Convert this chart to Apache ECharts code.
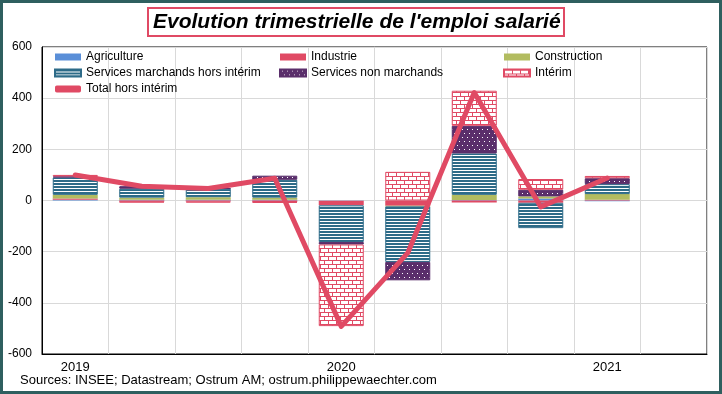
<!DOCTYPE html>
<html><head><meta charset="utf-8">
<script src="https://cdn.jsdelivr.net/npm/echarts@6/dist/echarts.min.js"></script>
<style>html,body{margin:0;padding:0;background:#fff}#c{width:722px;height:394px}</style>
</head><body><div id="c"></div>
<script>
const categories = ['2019T1','2019T2','2019T3','2019T4','2020T1','2020T2','2020T3','2020T4','2021T1','2021T2'];
const tickLabels = ['2019','','','','2020','','','','2021',''];
const agriculture = [3,3,3,3,-1,0,2,8,-3,null];
const industrie = [5,-5,-4,-6,-18,-21,-8,-9,3,null];
const construction = [14,8,10,8,0,-2,20,8,22,null];
const servicesMarchands = [68,35,33,70,-143,-217,162,-99,39,null];
const servicesNonMarchands = [4,10,2,16,-10,-72,108,26,23,null];
const interim = [6,-2,-4,-3,-319,112,137,42,9,null];
const totalHorsInterim = [100,56,47,87,-492,-205,422,-25,88,null];
const yMin = -600, yMax = 600, yStep = 200;

const RED = '#E04A64', TEAL = '#2D6B88', PURPLE = '#5A2E6B', BLUE = '#5A8FD8', GREEN = '#B2BC60';

function mk(w,h,draw){const c=document.createElement('canvas');c.width=w;c.height=h;const x=c.getContext('2d');draw(x);return {image:c,repeat:'repeat'};}
const stripePat = mk(4,3,x=>{x.fillStyle='#fff';x.fillRect(0,0,4,3);x.fillStyle=TEAL;x.fillRect(0,0,4,2);});
const dotPat = mk(10,8,x=>{x.fillStyle=PURPLE;x.fillRect(0,0,10,8);x.fillStyle='#fff';x.fillRect(2,1,1,1);x.fillRect(7,1,1,1);x.fillRect(4,5,1,1);x.fillRect(9,5,1,1);});
const brickPat = mk(8,8,x=>{x.fillStyle='#fff';x.fillRect(0,0,8,8);x.fillStyle=RED;x.fillRect(0,0,8,1);x.fillRect(0,4,8,1);x.fillRect(0,1,1,3);x.fillRect(4,5,1,3);});

const font = 'Liberation Sans, Arial, sans-serif';
const chart = echarts.init(document.getElementById('c'), null, {renderer:'canvas'});
function bar(name, data, color, border){
  return {name, type:'bar', stack:'t', data, barWidth:45,
    itemStyle: border ? {color, borderColor:border, borderWidth:1} : {color}};
}
const legendBase = {orient:'vertical', top:50, itemGap:2, itemWidth:26, itemHeight:7, padding:0, icon:'rect',
  textStyle:{fontSize:12, color:'#000', fontFamily:font, lineHeight:14}};
chart.setOption({
  animation:false,
  title:{text:"Evolution trimestrielle de l'emploi salarié", left:148, top:8, padding:[2,4,2,5],
    borderColor:RED, borderWidth:2,
    textStyle:{fontFamily:font, fontStyle:'italic', fontWeight:'bold', fontSize:21, color:'#000', lineHeight:24}},
  legend:[
    Object.assign({}, legendBase, {left:54, data:['Agriculture','Services marchands hors intérim',{name:'Total hors intérim', icon:'roundRect'}]}),
    Object.assign({}, legendBase, {left:279, data:['Industrie','Services non marchands']}),
    Object.assign({}, legendBase, {left:503, data:['Construction','Intérim']})
  ],
  grid:{left:42, right:15, top:47, bottom:40, show:true, borderColor:'#000', borderWidth:1},
  xAxis:{type:'category', data:categories, boundaryGap:true,
    axisLine:{show:true, onZero:false, lineStyle:{color:'#000'}},
    axisTick:{show:false},
    axisLabel:{interval:0, formatter:(v,i)=>tickLabels[i], margin:7, fontSize:13, color:'#000', fontFamily:font},
    splitLine:{show:true, interval:0, lineStyle:{color:'#d9d9d9'}}},
  yAxis:{type:'value', min:yMin, max:yMax, interval:yStep,
    axisLine:{show:true, lineStyle:{color:'#000'}}, axisTick:{show:false},
    axisLabel:{fontSize:12, color:'#000', margin:10, fontFamily:font},
    splitLine:{lineStyle:{color:'#d9d9d9'}}},
  graphic:[
    {type:'rect', shape:{x:1.5,y:1.5,width:719,height:391}, style:{fill:'none', stroke:'#2F5F5F', lineWidth:3}, z:100},
    {type:'text', left:20, top:374, style:{text:'Sources: INSEE; Datastream; Ostrum AM; ostrum.philippewaechter.com', font:'13px '+font, fill:'#000'}}
  ],
  series:[
    bar('Agriculture', agriculture, BLUE),
    bar('Industrie', industrie, RED),
    bar('Construction', construction, GREEN),
    bar('Services marchands hors intérim', servicesMarchands, stripePat, TEAL),
    bar('Services non marchands', servicesNonMarchands, dotPat, PURPLE),
    bar('Intérim', interim, brickPat, RED),
    {name:'Total hors intérim', type:'line', data:totalHorsInterim, symbol:'none', z:5,
      lineStyle:{color:RED, width:5, cap:'round', join:'round'}, itemStyle:{color:RED}}
  ]
});
</script></body></html>
